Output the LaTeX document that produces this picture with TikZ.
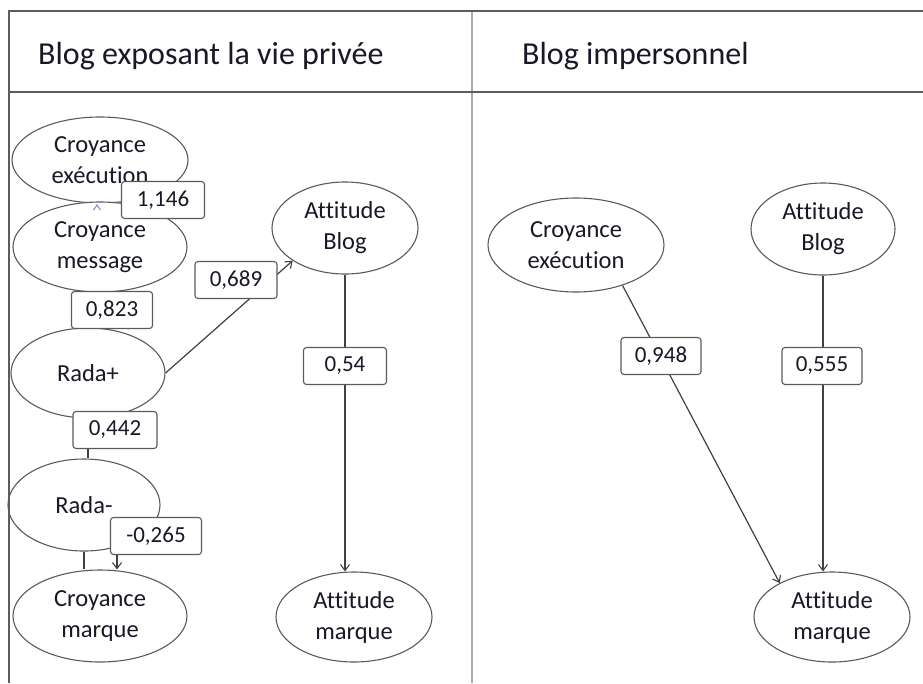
\documentclass[tikz,border=0pt]{standalone}
\usepackage{fontspec}
\setmainfont{Carlito}[Ligatures={NoCommon}]
\usetikzlibrary{shapes.geometric,arrows.meta,backgrounds}
\definecolor{txt}{HTML}{181826}
\definecolor{elc}{HTML}{5A5A5A}
\definecolor{lnc}{HTML}{404040}
\definecolor{frm}{HTML}{5C5C5C}
\definecolor{frl}{HTML}{ABABAB}
\definecolor{tipc}{HTML}{6A8CC8}
\begin{document}
\begin{tikzpicture}[x=1pt,y=-1pt,
  ell/.style={ellipse, draw=elc, line width=1.1pt, fill=white, inner sep=0pt, align=center, text=txt, font=\fontsize{24.5}{31}\selectfont},
  lab/.style={rectangle, rounded corners=3pt, draw=elc, line width=1.1pt, fill=white, inner sep=0pt, text=txt, font=\fontsize{23}{26}\selectfont, minimum height=37pt},
  conn/.style={draw=lnc, line width=1.2pt},
  arr/.style={conn, -{Straight Barb[length=6pt,width=9pt,line width=1.1pt]}},
  hdr/.style={anchor=base west, inner sep=0pt, text=txt, font=\fontsize{32}{36}\selectfont},
]
\useasboundingbox (0,0) rectangle (923,683);

% headers
\node[hdr] (h1) at (38,64) {Blog exposant la vie privée};
\node[hdr] (h2) at (522,64) {Blog impersonnel};

% left panel nodes
\node[ell, minimum width=176pt, minimum height=86pt] (lexec) at (100,160) {Croyance\\exécution};
\node[ell, minimum width=174pt, minimum height=90pt] (lmsg) at (100,247) {Croyance\\message};
\node[ell, minimum width=154pt, minimum height=90pt] (radap) at (88,373) {Rada+};
\node[ell, minimum width=152pt, minimum height=92pt] (radam) at (84,505) {Rada-};
\node[ell, minimum width=174pt, minimum height=92pt] (cmarq) at (100,616) {Croyance\\marque};
\node[ell, minimum width=146pt, minimum height=92pt] (lablog) at (345,228) {Attitude\\Blog};
\node[ell, minimum width=156pt, minimum height=90pt] (lamarq) at (354,617) {Attitude\\marque};

% right panel nodes
\node[ell, minimum width=176pt, minimum height=94pt] (rexec) at (576,245) {Croyance\\exécution};
\node[ell, minimum width=144pt, minimum height=92pt] (rablog) at (823,229) {Attitude\\Blog};
\node[ell, minimum width=156pt, minimum height=90pt] (ramarq) at (832,617) {Attitude\\marque};

% connectors (behind)
\begin{pgfonlayer}{background}
\draw[conn] (lmsg.south) -- (radap.north);
\draw[arr] (radap.east) -- (lablog.212);
\draw[conn] (radap.south) -- (radap.south |- radam.north);
\draw[conn] (radam.south) -- (radam.south |- cmarq.north);
\draw[arr] (lablog.south) -- (lablog.south |- lamarq.north);
\draw[arr] (rexec.319) -- (ramarq.147);
\draw[arr] (rablog.south) -- (rablog.south |- ramarq.north);
\end{pgfonlayer}

% labels
\node[lab, minimum width=83pt] (b1146) at (163,200) {1,146};
\node[lab, minimum width=81pt] (b0823) at (112,310) {0,823};
\node[lab, minimum width=82pt] (b0689) at (236,280) {0,689};
\node[lab, minimum width=84pt] (b0442) at (115,430) {0,442};
\node[lab, minimum width=91pt] (b0265) at (156,536) {-0,265};
\node[lab, minimum width=83pt] (b054) at (345,366) {0,54};
\node[lab, minimum width=80pt] (b0948) at (661,356) {0,948};
\node[lab, minimum width=80pt] (b0555) at (822,366) {0,555};

% arrow from -0,265 label to Croyance marque
\draw[arr] ([xshift=-39pt]b0265.south) -- ([xshift=-39pt]b0265.south |- cmarq.north);

% small blue arrow tip (Croyance message -> Croyance exécution)
\coordinate (tipA) at (97,205);
\draw[tipc, line width=1pt] ([xshift=-3.5pt,yshift=-5pt]tipA) -- (tipA) -- ([xshift=3.5pt,yshift=-5pt]tipA);

% frame
\draw[frl, line width=2.5pt] (472,11) -- (472,683);
\draw[frm, line width=2pt] (9,683) -- (9,11) -- (923,11);
\draw[frm, line width=2pt] (9,92) -- (923,92);
\end{tikzpicture}
\end{document}
